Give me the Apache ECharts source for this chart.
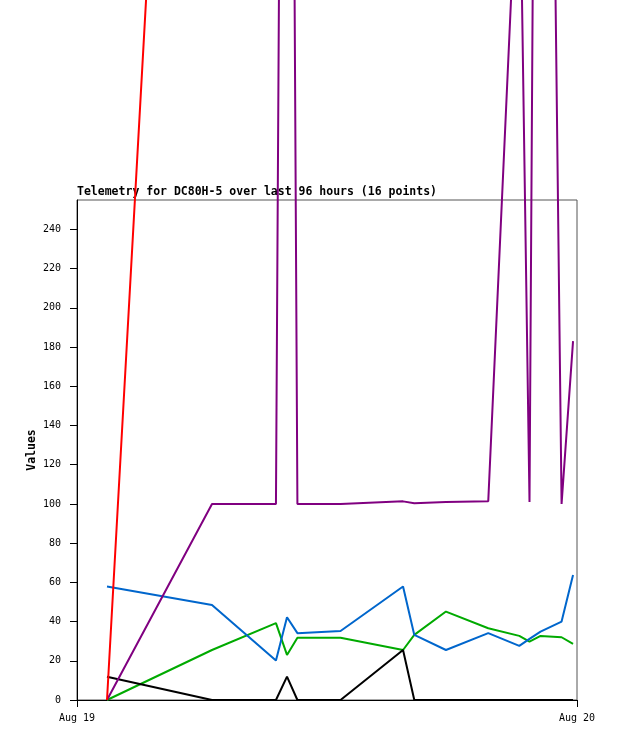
<!DOCTYPE html>
<html>
<head>
<meta charset="utf-8">
<script src="https://cdn.jsdelivr.net/npm/echarts@6/dist/echarts.min.js"></script>
<style>
html,body{margin:0;padding:0;background:#fff;}
#chart{width:618px;height:741px;}
</style>
</head>
<body>
<div id="chart"></div>
<script>
// hours since Aug 19 00:00 for each sample
const hours = [1.44, 6.48, 9.55, 10.08, 10.58, 12.65, 15.65, 16.19, 17.71, 19.74, 21.23, 21.72, 22.25, 23.26, 23.81];
const redValues    = [0, 960, 990, 1010, 1000, 980, 970, 1000, 1020, 990, 1010, 1000, 980, 1000, 990];
const purpleValues = [0, 100, 100, 1060, 100, 100, 101.3, 100.3, 101, 101.4, 450, 101, 1000, 100, 183];
const blueValues   = [57.9, 48.5, 20.1, 42.2, 34.1, 35.2, 57.9, 33.2, 25.5, 34.1, 27.6, 31.2, 34.9, 40.0, 63.8];
const greenValues  = [0, 25.5, 39.2, 23.0, 31.8, 31.8, 25.5, 33.2, 45.1, 36.6, 32.7, 29.8, 32.7, 32.0, 28.6];
const blackValues  = [11.9, 0, 0, 11.9, 0, 0, 25.5, 0, 0, 0, 0, 0, 0, 0, 0];
const yTicks = [0, 20, 40, 60, 80, 100, 120, 140, 160, 180, 200, 220, 240];
const xTickLabels = ['Aug 19', 'Aug 20'];
const titleText = 'Telemetry for DC80H-5 over last 96 hours (16 points)';

const mono = 'DejaVu Sans Mono';
function pairs(vals) { return hours.map((h, i) => [h, vals[i]]); }
function mk(name, color, vals) {
  return {
    name: name, type: 'line', data: pairs(vals), showSymbol: false, symbol: 'none',
    clip: false, z: 5, animation: false,
    lineStyle: { color: color, width: 2 }
  };
}

const chart = echarts.init(document.getElementById('chart'), null, { renderer: 'canvas' });
chart.setOption({
  animation: false,
  backgroundColor: '#ffffff',
  title: {
    text: titleText, left: 77, top: 186, padding: 0, z: 1,
    textStyle: { fontFamily: mono, fontSize: 11.5, fontWeight: 'bold', color: '#000' }
  },
  grid: {
    left: 77, right: 41, top: 200, bottom: 41, show: true,
    borderColor: '#555555', borderWidth: 1, backgroundColor: 'transparent'
  },
  xAxis: {
    type: 'value', min: 0, max: 24, interval: 24,
    axisLine: { show: true, lineStyle: { color: '#000', width: 1 } },
    axisTick: { show: true, length: 7, lineStyle: { color: '#000' } },
    splitLine: { show: false },
    axisLabel: {
      margin: 13, fontFamily: mono, fontSize: 10, color: '#000',
      formatter: v => xTickLabels[Math.round(v / 24)] || ''
    }
  },
  yAxis: {
    type: 'value', min: 0, max: 255, interval: 20,
    name: 'Values', nameLocation: 'middle', nameGap: 39, nameMoveOverlap: false,
    nameTextStyle: { fontFamily: mono, fontSize: 11.5, fontWeight: 'bold', color: '#000' },
    axisLine: { show: true, lineStyle: { color: '#000', width: 1 } },
    axisTick: { show: true, length: 7, customValues: yTicks, lineStyle: { color: '#000' } },
    splitLine: { show: false },
    axisLabel: { margin: 16, customValues: yTicks, fontFamily: mono, fontSize: 10, color: '#000' }
  },
  series: [
    mk('green', '#00aa00', greenValues),
    mk('blue', '#0066cc', blueValues),
    mk('black', '#000000', blackValues),
    mk('purple', '#800080', purpleValues),
    mk('red', '#ff0000', redValues)
  ]
});
</script>
</body>
</html>
